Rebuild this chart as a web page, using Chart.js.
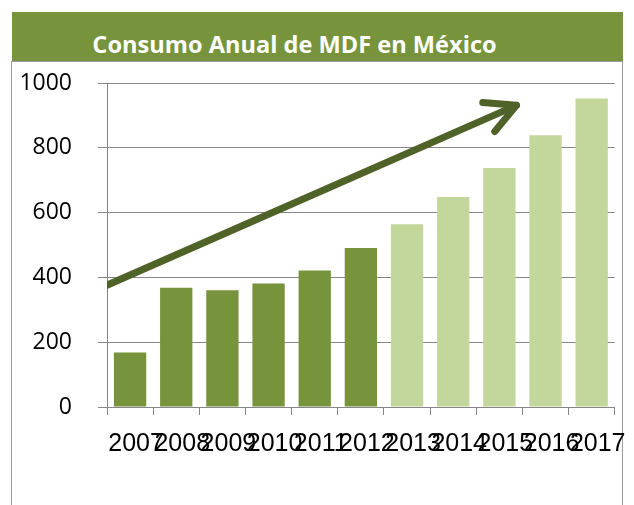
<!DOCTYPE html>
<html lang="es">
<head>
<meta charset="utf-8">
<title>Consumo Anual de MDF en México</title>
<script src="https://cdn.jsdelivr.net/npm/chart.js@4.4.1/dist/chart.umd.min.js"></script>
<style>
  html, body { margin: 0; padding: 0; background: #ffffff; }
  #wrap { position: relative; width: 634px; height: 505px; overflow: hidden; }
  #marco {
    position: absolute; left: 11px; top: 61px; width: 612px; height: 460px;
    border: 1px solid #9c9c9c; box-sizing: border-box;
  }
  #titulo {
    position: absolute; left: 12px; top: 12px; width: 611px; height: 49px;
    background: #77933c; color: #ffffff;
    font-family: "Open Sans", sans-serif; font-weight: 700; font-size: 23.6px;
    text-align: center; line-height: 49px; padding-top: 8px; box-sizing: border-box;
    padding-right: 46px;
  }
  canvas { position: absolute; left: 0; top: 0; }
</style>
</head>
<body>
<div id="wrap">
  <div id="marco"></div>
  <div id="titulo">Consumo Anual de MDF en México</div>
  <canvas id="grafica" width="634" height="505"></canvas>
</div>
<script>
// Años y consumo anual de MDF
const anios = ['2007', '2008', '2009', '2010', '2011', '2012', '2013', '2014', '2015', '2016', '2017'];
const consumo = [168, 368, 360, 381, 421, 491, 564, 648, 738, 839, 952];
// Los años desde 2013 se muestran en verde claro (proyección)
const anioInicioProyeccion = '2013';
const ticksY = [0, 200, 400, 600, 800, 1000];

// Flecha de tendencia: posición en índice de categoría y valor del eje Y
const flechaTallo = [{ x: -0.5, y: 376 }, { x: 8.37, y: 931 }];
const flechaPunta = [{ x: 7.64, y: 940 }, { x: 8.37, y: 931 }, { x: 7.9, y: 850 }];

const verdeOscuro = '#77933c';
const verdeClaro = '#c3d69b';
const verdeFlecha = '#4f6228';
const gris = '#868686';

const idxProy = anios.indexOf(anioInicioProyeccion);
const coloresBarras = anios.map((a, i) => (i < idxProy ? verdeOscuro : verdeClaro));

new Chart(document.getElementById('grafica'), {
  type: 'bar',
  data: {
    labels: anios,
    datasets: [
      {
        type: 'bar',
        data: consumo,
        backgroundColor: coloresBarras,
        borderWidth: 0,
        grouped: false,
        categoryPercentage: 1,
        barPercentage: 0.7,
        order: 2
      },
      {
        type: 'line',
        data: flechaTallo,
        xAxisID: 'xf',
        borderColor: verdeFlecha,
        borderWidth: 7,
        borderCapStyle: 'round',
        pointRadius: 0,
        tension: 0,
        order: 1
      },
      {
        type: 'line',
        data: flechaPunta,
        xAxisID: 'xf',
        borderColor: verdeFlecha,
        borderWidth: 7,
        borderCapStyle: 'round',
        borderJoinStyle: 'round',
        pointRadius: 0,
        tension: 0,
        order: 1
      }
    ]
  },
  options: {
    responsive: false,
    animation: false,
    layout: { padding: { left: 0, right: 11, top: 83, bottom: 0 } },
    plugins: { legend: { display: false }, tooltip: { enabled: false }, title: { display: false } },
    scales: {
      x: {
        type: 'category',
        offset: true,
        grid: { offset: true, drawOnChartArea: false, drawTicks: true, tickLength: 8, color: gris },
        border: { display: true, color: gris },
        ticks: {
          color: '#000000',
          padding: 14,
          labelOffset: 6,
          maxRotation: 0,
          autoSkip: false,
          font: { family: '"Liberation Sans Narrow", "Arial Narrow", sans-serif', size: 25 }
        },
        afterFit: (s) => { s.height = 98; }
      },
      xf: {
        type: 'linear',
        display: false,
        offset: false,
        grid: { offset: false },
        min: -0.5,
        max: 10.5
      },
      y: {
        min: 0,
        max: 1000,
        afterBuildTicks: (s) => { s.ticks = ticksY.map(v => ({ value: v })); },
        grid: { color: gris, tickLength: 9, drawTicks: true },
        border: { display: true, color: gris },
        ticks: {
          color: '#000000',
          padding: 26,
          callback: (v) => String(v),
          font: { family: '"Open Sans", sans-serif', size: 23 }
        },
        afterFit: (s) => { s.width = 107; }
      }
    }
  }
});
</script>
</body>
</html>
